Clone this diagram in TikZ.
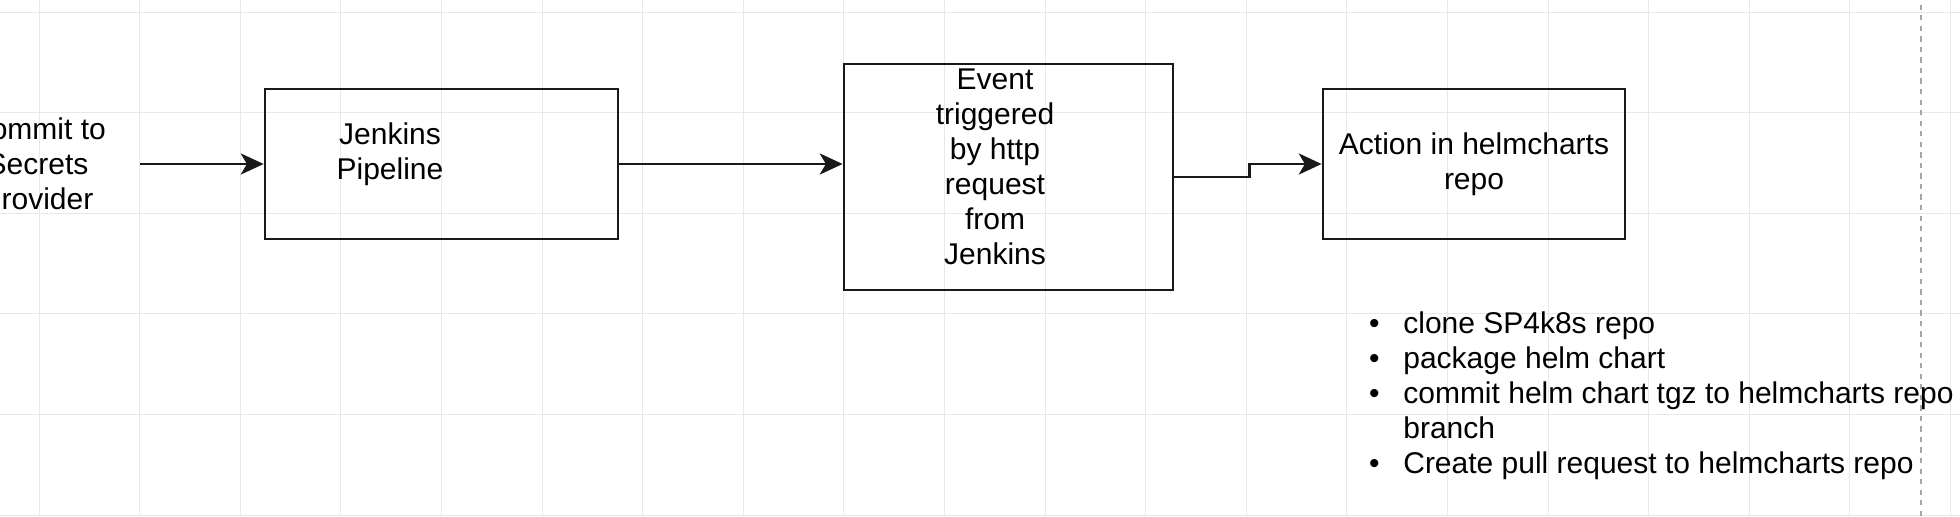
\documentclass[tikz,border=0pt]{standalone}
\usepackage{fontspec}
\setmainfont{Liberation Sans}
\usetikzlibrary{arrows.meta}

\begin{document}
\begin{tikzpicture}[
  gridline/.style={black!9,line width=0.5pt},
  box/.style={draw=black!90,line width=1.6pt,inner sep=0pt},
  txt/.style={font=\fontsize{17.07pt}{19.92pt}\selectfont,align=center,inner sep=0pt},
  flow/.style={draw=black!90,line width=1.6pt,-{Stealth[length=13pt,width=12pt,inset=3.5pt]}}
]
  \useasboundingbox (0,0) rectangle (39.2,10.32);
  \fill[white] (0,0) rectangle (39.2,10.32);
  \clip (0,0) rectangle (39.2,10.32);

  \foreach \i in {0,...,19}
    \draw[gridline] ({0.78+2.012*\i},0) -- ({0.78+2.012*\i},10.32);
  \foreach \j in {0,...,5}
    \draw[gridline] (0,{10.08-2.012*\j}) -- (39.2,{10.08-2.012*\j});
  \draw[black!35,line width=0.6pt,dash pattern=on 3pt off 3pt] (38.42,0) -- (38.42,10.32);

  \node[txt] (src) at (0.75,7.04) {Commit to\\Secrets\\Provider};

  \node[box,minimum width=7.06cm,minimum height=3cm] (pipe) at (8.83,7.04) {};
  \node[txt] (pipetxt) at (7.80,7.24) {Jenkins\\Pipeline};

  \node[box,minimum width=6.58cm,minimum height=4.52cm] (event) at (20.17,6.78) {};
  \node[txt] (eventtxt) at (19.90,6.98) {Event\\triggered\\by http\\request\\from\\Jenkins};

  \node[box,txt,minimum width=6.04cm,minimum height=3cm] (action) at (29.48,7.04) {Action in helmcharts\\repo};

  \node[font=\fontsize{17.07pt}{19.92pt}\selectfont,inner sep=0pt,anchor=base west] (steps) at (27.375,3.66) {%
    \begin{tabular}[t]{@{}c@{\hspace{0.475cm}}l@{}}
      \textbullet & clone SP4k8s repo\\
      \textbullet & package helm chart\\
      \textbullet & commit helm chart tgz to helmcharts repo\\
                  & branch\\
      \textbullet & Create pull request to helmcharts repo
    \end{tabular}};

  \draw[flow] ([xshift=0.68cm]src.east) -- (pipe.west);
  \draw[flow] (pipe.east) -- (pipe.east -| event.west);
  \draw[flow] (event.east) -- ++(1.5,0) |- (action.west);
\end{tikzpicture}
\end{document}
